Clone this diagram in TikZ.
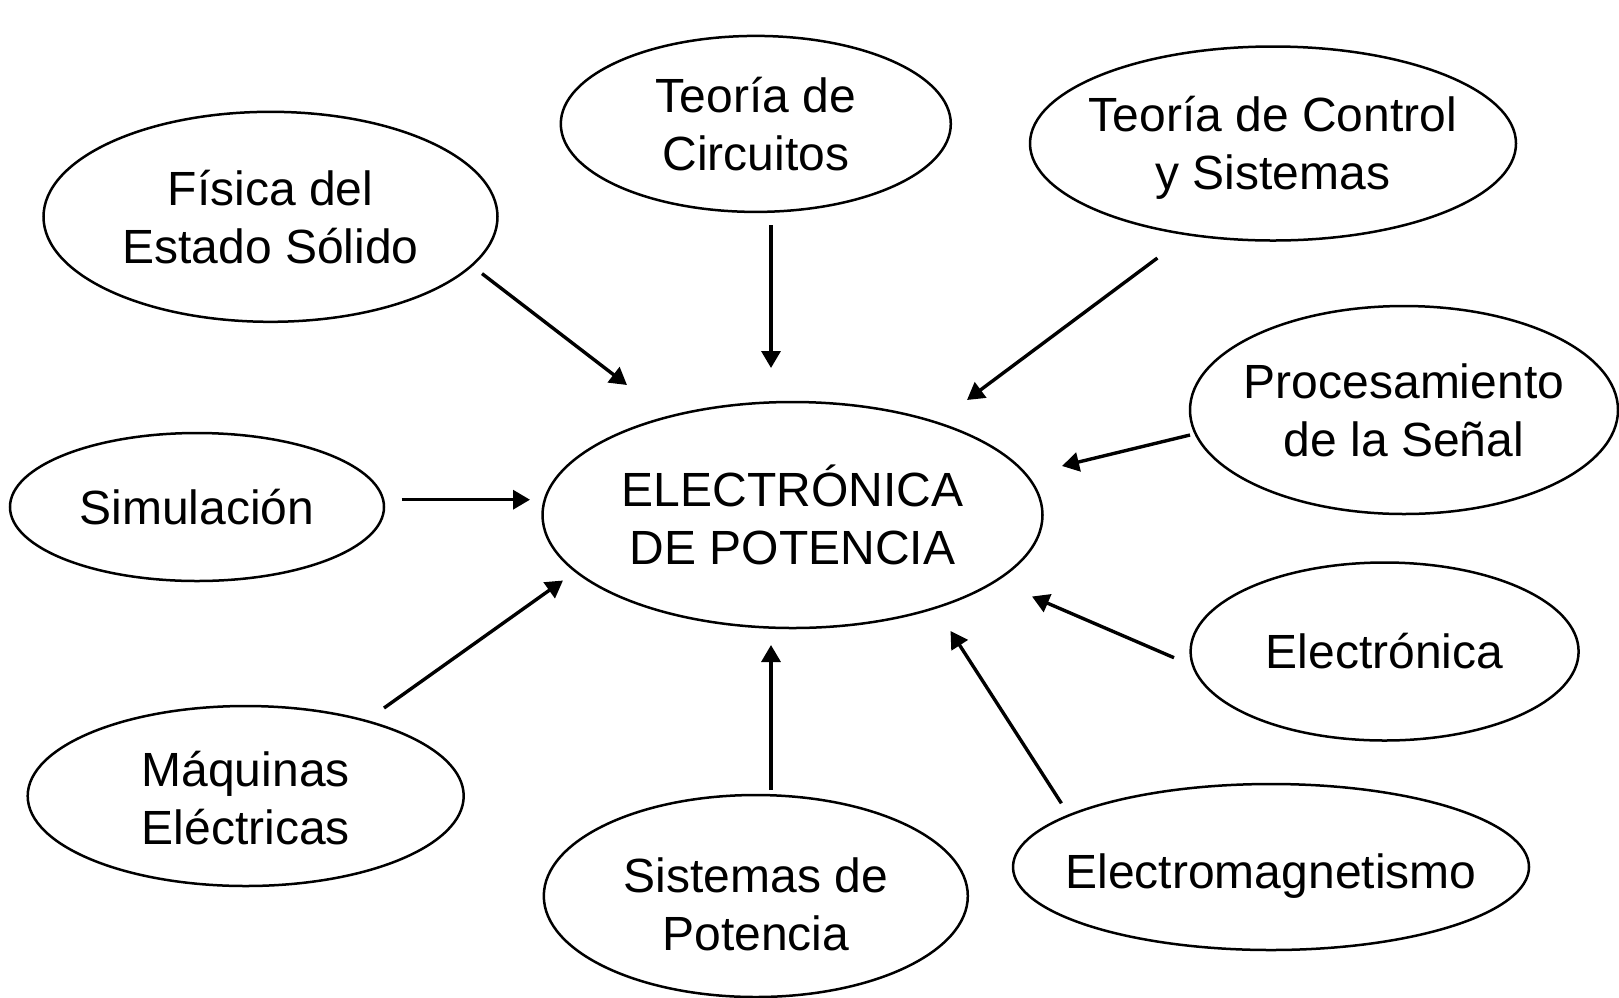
\documentclass[tikz,border=0pt]{standalone}
\usepackage{fontspec}
\setmainfont{Liberation Sans}
\usetikzlibrary{shapes.geometric,arrows.meta}
\begin{document}
\begin{tikzpicture}[x=1pt,y=1pt,
  topic/.style={ellipse,inner sep=0pt,align=center,
    font=\fontsize{48}{58}\selectfont},
  ring/.style={draw=black,line width=2.5pt},
  link/.style={line width=3.4pt,-{Triangle[length=17pt,width=19pt]}}]
\useasboundingbox[fill=white] (0,0) rectangle (1619,-997);
\node[topic] (fis) at (270.5,-216.8) {Física del\\Estado Sólido};
\node[topic] (cir) at (755.8,-123.9) {Teoría de\\Circuitos};
\node[topic] (con) at (1273,-147.5) {Teoría de Control\\y Sistemas};
\node[topic] (sen) at (1404,-410) {Procesamiento\\de la Señal};
\node[topic] (sim) at (197,-507) {Simulación};
\node[topic] (ep) at (792.5,-515) {ELECTRÓNICA\\DE POTENCIA};
\node[topic] (ele) at (1384.6,-651.5) {Electrónica};
\node[topic] (maq) at (245.7,-798) {Máquinas\\Eléctricas};
\node[topic] (sis) at (755.8,-904) {Sistemas de\\Potencia};
\node[topic] (emg) at (1271,-876) {Electromagnetismo};
% outlines of the ellipses
\draw[ring] (fis.center) ellipse [x radius=227, y radius=105];
\draw[ring] (cir.center) ellipse [x radius=195, y radius=88];
\draw[ring] ([yshift=4pt]con.center) ellipse [x radius=243, y radius=97];
\draw[ring] (sen.center) ellipse [x radius=214, y radius=104];
\draw[ring] (sim.center) ellipse [x radius=187, y radius=74];
\draw[ring] (ep.center) ellipse [x radius=250, y radius=113];
\draw[ring] (ele.center) ellipse [x radius=194, y radius=89];
\draw[ring] ([yshift=2pt]maq.center) ellipse [x radius=218, y radius=90];
\draw[ring] ([yshift=8pt]sis.center) ellipse [x radius=212, y radius=101];
\draw[ring] ([yshift=9pt]emg.center) ellipse [x radius=258, y radius=83];
% connector end points
\coordinate (fisA) at (482,-273.6);   \coordinate (fisB) at (627,-385);
\coordinate (cirA) at (771,-225);     \coordinate (cirB) at (771,-368);
\coordinate (conA) at (1157.4,-258);  \coordinate (conB) at (967,-400);
\coordinate (senA) at (1190,-435);    \coordinate (senB) at (1062,-466);
\coordinate (simA) at (401.6,-499.7); \coordinate (simB) at (530,-499.7);
\coordinate (eleA) at (1174,-657.7);  \coordinate (eleB) at (1032,-596.5);
\coordinate (emgA) at (1061.4,-803.3);\coordinate (emgB) at (950.5,-631);
\coordinate (sisA) at (771,-790);     \coordinate (sisB) at (771,-645);
\coordinate (maqA) at (384,-708);     \coordinate (maqB) at (563,-580.5);
\draw[link] (fisA) -- (fisB);
\draw[link] (cirA) -- (cirB);
\draw[link] (conA) -- (conB);
\draw[link] (senA) -- (senB);
\draw[link] (simA) -- (simB);
\draw[link] (eleA) -- (eleB);
\draw[link] (emgA) -- (emgB);
\draw[link] (sisA) -- (sisB);
\draw[link] (maqA) -- (maqB);
\end{tikzpicture}
\end{document}
